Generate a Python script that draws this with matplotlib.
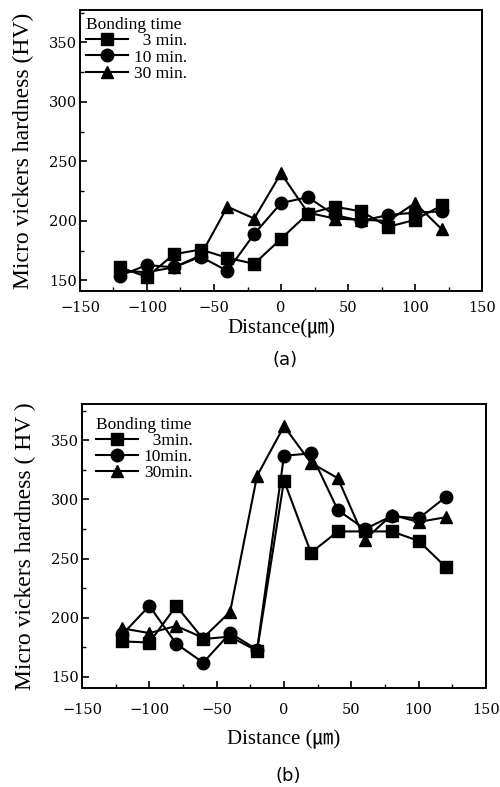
import matplotlib
matplotlib.use("Agg")
import matplotlib.pyplot as plt
from matplotlib.ticker import MultipleLocator

# distance from the bond line (um)
distance = [-120, -100, -80, -60, -40, -20, 0, 20, 40, 60, 80, 100, 120]

# panel (a)
a_3min = [161, 153, 172, 176, 169, 164, 185, 206, 212, 208, 195, 201, 213]
a_10min = [154, 163, 161, 170, 158, 189, 215, 220, 205, 200, 205, 207, 208]
a_30min = [158, 157, 161, 171, 212, 202, 240, 207, 202, 201, 200, 215, 193]
a_labels = ["  3 min.", "10 min.", "30 min."]

# panel (b)
b_3min = [180, 179, 210, 182, 184, 172, 316, 255, 273, 273, 273, 265, 243]
b_10min = [186, 210, 178, 162, 187, 173, 337, 339, 291, 275, 286, 284, 302]
b_30min = [191, 187, 193, 183, 205, 320, 362, 331, 318, 266, 287, 281, 285]
b_labels = ["  3min.", "10min.", "30min."]

xtick_values = [-150, -100, -50, 0, 50, 100, 150]
xtick_labels = ["\u2212150", "\u2212100", "\u221250", "0", "50", "100", "150"]

SERIF = ["Liberation Serif", "Noto Sans CJK KR", "DejaVu Sans"]
TICKFONT = ["DejaVu Serif"]
plt.rcParams["font.family"] = SERIF


def draw_panel(ax, series, labels, ylim, xlabel, ylabel, xpad, xlabelpad, legend_anchor):
    markers = ["s", "o", "^"]
    for values, label, marker in zip(series, labels, markers):
        ax.plot(distance, values, color="black", linewidth=1.5, marker=marker,
                markersize=9, label=label)
    ax.set_xlim(-150, 150)
    ax.set_ylim(*ylim)
    ax.xaxis.set_minor_locator(MultipleLocator(25))
    ax.yaxis.set_major_locator(MultipleLocator(50))
    ax.yaxis.set_minor_locator(MultipleLocator(25))
    ax.set_xticks(xtick_values)
    ax.set_xticklabels(xtick_labels)
    ax.tick_params(which="both", direction="in", top=False, right=False)
    ax.tick_params(which="major", length=5, width=1.2)
    ax.tick_params(which="minor", length=3, width=1)
    ax.tick_params(axis="x", pad=xpad)
    ax.tick_params(axis="y", pad=2)
    for lab in ax.get_xticklabels() + ax.get_yticklabels():
        lab.set_fontfamily(TICKFONT)
        lab.set_fontsize(10.5)
    for spine in ax.spines.values():
        spine.set_linewidth(1.4)
    ax.set_ylabel(ylabel, fontsize=17, labelpad=11)
    ax.set_xlabel(xlabel, fontsize=15, labelpad=xlabelpad)
    leg = ax.legend(title="Bonding time", loc="upper left", frameon=False,
                    bbox_to_anchor=legend_anchor,
                    fontsize=12.5, title_fontsize=12.5, handlelength=2.4,
                    handletextpad=0.35, labelspacing=0.0, borderaxespad=0.0,
                    borderpad=0.0)
    leg._legend_box.align = "left"


fig = plt.figure(figsize=(5.0, 7.87), dpi=100)
ax_a = fig.add_axes([0.160, 0.630, 0.804, 0.357])
ax_b = fig.add_axes([0.164, 0.126, 0.808, 0.361])

draw_panel(ax_a, [a_3min, a_10min, a_30min], a_labels, (141, 377),
           "Distance(\u339b)", "Micro vickers hardness (HV)", 7, 3, (0.015, 0.975))
draw_panel(ax_b, [b_3min, b_10min, b_30min], b_labels, (140.7, 381),
           "Distance (\u339b)", "Micro vickers hardness ( HV )", 11, 9, (0.035, 0.955))

fig.text(0.57, 1 - 360 / 787, "(a)", ha="center", va="center", fontsize=13,
         family="DejaVu Sans")
fig.text(0.576, 1 - 776 / 787, "(b)", ha="center", va="center", fontsize=13,
         family="DejaVu Sans")

fig.savefig("out.png", dpi=100)
plt.close(fig)
